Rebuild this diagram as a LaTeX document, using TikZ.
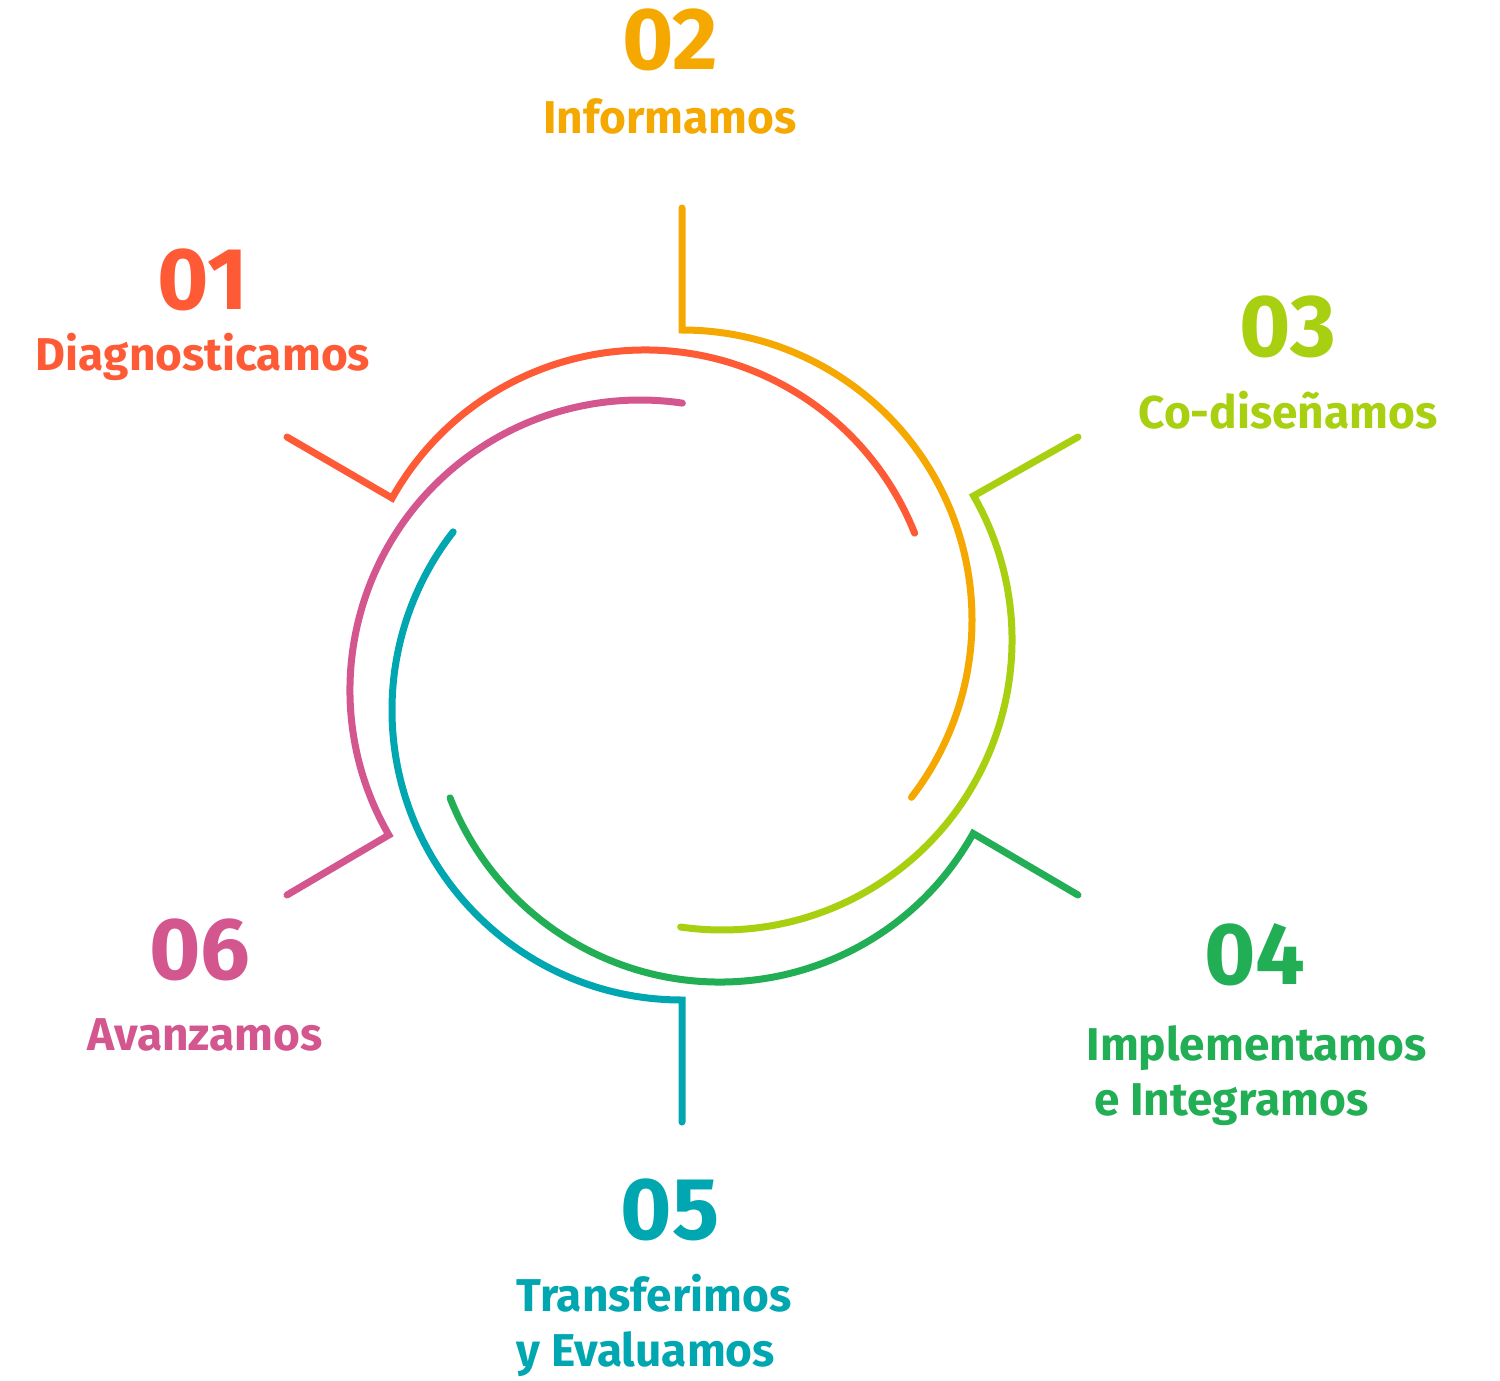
\documentclass[tikz,border=0pt]{standalone}
\usepackage{fontspec}
\setmainfont{Fira Sans}
\usetikzlibrary{calc}
\definecolor{cA}{HTML}{FF5A36}
\definecolor{cB}{HTML}{F5A800}
\definecolor{cC}{HTML}{A8CF10}
\definecolor{cD}{HTML}{22AE55}
\definecolor{cE}{HTML}{00A6B0}
\definecolor{cF}{HTML}{D3568F}
\begin{document}
\begin{tikzpicture}[x=1pt,y=1pt,yscale=-1,
  ln/.style={line width=7pt,line cap=round,line join=miter},
  num/.style={font=\fontsize{88}{88}\selectfont\bfseries},
  lab/.style={font=\fontsize{46}{55}\selectfont\bfseries}]
\useasboundingbox (0,0) rectangle (1500,1381);
% tick ends
\coordinate (t1) at (287,437);
\coordinate (t2) at (682,208);
\coordinate (t3) at (1078,437);
\coordinate (t4) at (1078,895);
\coordinate (t5) at (682,1122);
\coordinate (t6) at (287,895);
% arcs
\draw[ln,cA] (t1) -- ($(645,640)+(-150.7:290)$) arc[start angle=-150.7,end angle=-21.6,radius=290];
\draw[ln,cB] (t2) -- (682,330) arc[start angle=-90,end angle=37.7,radius=290];
\draw[ln,cC] (t3) -- ($(722,640)+(-29.8:290)$) arc[start angle=-29.8,end angle=98.2,radius=290];
\draw[ln,cD] (t4) -- ($(720,692)+(29.2:290)$) arc[start angle=29.2,end angle=158.6,radius=290];
\draw[ln,cE] (t5) -- (682,1000) arc[start angle=90,end angle=217.9,radius=290];
\draw[ln,cF] (t6) -- ($(640,690)+(150:290)$) arc[start angle=150,end angle=278.4,radius=290];
% texts
\node[num,text=cB] (n2) at (670,40) {02};
\node[lab,text=cB] (l2) at (670,116) {Informamos};
\node[num,text=cA] (n1) at (203,280) {01};
\node[lab,text=cA] (l1) at (203,357) {Diagnosticamos};
\node[num,text=cC] (n3) at (1288,327) {03};
\node[lab,text=cC] (l3) at (1288,410) {Co-diseñamos};
\node[num,text=cD] (n4) at (1255,955) {04};
\node[lab,text=cD,anchor=west,align=left] (l4) at (1083,1076) {Implementamos\\\,e Integramos};
\node[num,text=cE] (n5) at (670,1210) {05};
\node[lab,text=cE,anchor=west,align=left] (l5) at (513,1325) {Transferimos\\y Evaluamos};
\node[num,text=cF] (n6) at (200,950) {06};
\node[lab,text=cF] (l6) at (205,1035) {Avanzamos};
\end{tikzpicture}
\end{document}
